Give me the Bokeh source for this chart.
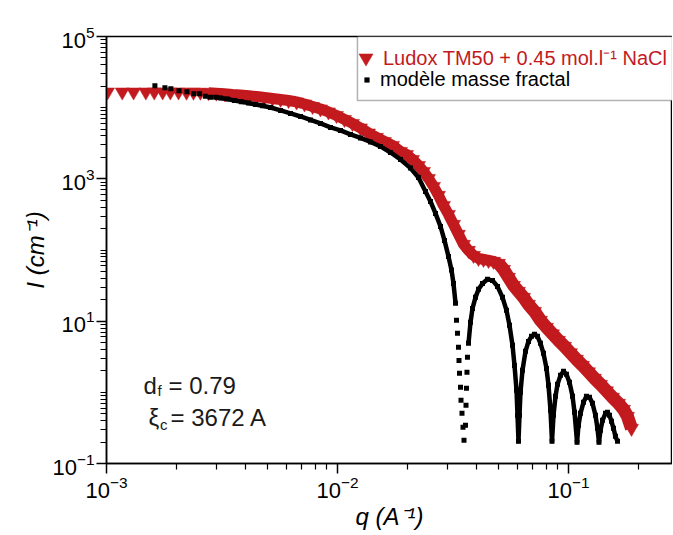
from bokeh.plotting import figure
from bokeh.models import (FixedTicker, Legend, LegendItem, BoxAnnotation, Label, Range1d)
from bokeh.embed import file_html
from bokeh.resources import INLINE

# ---------------- data ----------------
ludox_q = [0.00101, 0.00117, 0.00131, 0.00148, 0.00161, 0.00175, 0.00189, 0.00205, 0.00222, 0.00238,
           0.00255, 0.00276, 0.00299, 0.00324, 0.00351, 0.00380, 0.00412, 0.00446, 0.00483, 0.00523,
           0.00567, 0.00614, 0.00665, 0.00720, 0.00780, 0.00844, 0.00914, 0.00990, 0.01072, 0.01161,
           0.01258, 0.01362, 0.01475, 0.01597, 0.01730, 0.01874, 0.01990, 0.02112, 0.02242, 0.02357,
           0.02477, 0.02604, 0.02736, 0.02876, 0.03023, 0.03178, 0.03340, 0.03512, 0.03691, 0.03879,
           0.04078, 0.04286, 0.04505, 0.04735, 0.04977, 0.05232, 0.05500, 0.05780, 0.06075, 0.06386,
           0.06711, 0.07125, 0.07564, 0.08031, 0.08526, 0.09052, 0.09610, 0.1020, 0.1083, 0.1150,
           0.1221, 0.1296, 0.1376, 0.1461, 0.1551, 0.1647, 0.1730, 0.1800, 0.1874]
ludox_I = [16600, 16600, 16600, 16600, 16600, 16600, 16600, 16600, 16500, 16500,
           16500, 16250, 15990, 15680, 15330, 15080, 14690, 14370, 13910, 13470,
           13040, 12620, 12030, 11270, 10400, 9590, 8700, 7770, 6830, 6000,
           5190, 4410, 3820, 3350, 2945, 2425, 2200, 1873, 1542, 1270,
           1013, 782, 585, 423, 316, 229, 166, 120, 98.7, 84.0,
           76.2, 73.8, 71.4, 69.2, 64.8, 53.4, 41.2, 31.8, 26.2, 21.6,
           17.2, 13.7, 10.26, 8.18, 6.63, 5.37, 4.43, 3.59, 2.91, 2.39,
           1.94, 1.573, 1.295, 1.050, 0.851, 0.701, 0.577, 0.460, 0.312]

model_q = [0.00162, 0.00179, 0.00190, 0.00206, 0.00223, 0.00239, 0.00253, 0.00268, 0.00282, 0.00297,
           0.00312, 0.00334, 0.00358, 0.00384, 0.00412, 0.00442, 0.00474, 0.00513, 0.00567, 0.00626,
           0.00692, 0.00764, 0.00844, 0.00933, 0.01030, 0.01138, 0.01258, 0.01390, 0.01535, 0.01696,
           0.01874, 0.02070, 0.02242, 0.02404, 0.02527, 0.02656, 0.02792, 0.02905, 0.03023, 0.03115,
           0.03178, 0.03243,
           0.03275, 0.03307, 0.03340, 0.03357, 0.03374, 0.03408, 0.03425, 0.03459, 0.03494, 0.03529,
           0.03582, 0.03600, 0.03617, 0.03635, 0.03653,
           0.03691, 0.03765, 0.03841, 0.03958, 0.04078, 0.04244, 0.04460, 0.04688, 0.04927, 0.05180,
           0.05391, 0.05555, 0.05724, 0.05839, 0.05957, 0.06016, 0.06075,
           0.06136, 0.06197, 0.06322, 0.06514, 0.06711, 0.06916, 0.07125, 0.07342, 0.07564, 0.07794,
           0.08031, 0.08193, 0.08358, 0.08484,
           0.08612, 0.08786, 0.08963, 0.09235, 0.09515, 0.09802, 0.1010, 0.1041, 0.1062, 0.1089,
           0.1105, 0.1127, 0.1161, 0.1196, 0.1233, 0.1270, 0.1309, 0.1335, 0.1355,
           0.1376, 0.1404, 0.1446, 0.1475, 0.1505, 0.1535, 0.1566, 0.1597, 0.1630]
model_I = [20300, 19000, 18420, 17270, 16720, 15680, 15680, 14500, 14040, 14040,
           13680, 13250, 12620, 12100, 11640, 11090, 10630, 10060, 9135, 8288,
           7520, 6719, 6000, 5272, 4784, 4203, 3753, 3298, 2852, 2348,
           1873, 1423, 1046, 665, 481, 327, 214.6, 136.4, 81.3, 52.4,
           33.9, 17.8,
           10.26, 6.74, 4.29, 2.81, 1.849, 1.176, 0.772, 0.507, 0.322, 0.212,
           0.344, 0.657, 1.138, 1.910, 3.10,
           4.88, 9.62, 15.1, 21.6, 28.0, 33.9, 38.7, 37.4, 30.8, 21.6,
           14.2, 8.73, 4.57, 2.39, 1.067, 0.475, 0.205,
           0.475, 1.00, 2.04, 3.77, 5.20, 6.12, 6.53, 6.12, 4.88, 3.53,
           2.17, 1.254, 0.559, 0.205,
           0.475, 0.879, 1.295, 1.733, 1.972, 1.789, 1.382, 0.879, 0.524, 0.199,
           0.344, 0.507, 0.724, 0.879, 0.851, 0.701, 0.475, 0.312, 0.199,
           0.293, 0.404, 0.507, 0.524, 0.475, 0.391, 0.312, 0.241, 0.205]

x_major = [0.001, 0.01, 0.1]
x_minor = [m * 10.0 ** k for k in (-3, -2, -1) for m in range(2, 10)]
y_major = [0.1, 10, 1000, 100000]
y_minor = [m * 10.0 ** k for k in range(-1, 5) for m in range(1, 10)
           if not (m == 1 and k in (-1, 1, 3))]

legend_labels = ["Ludox TM50 + 0.45 mol.l\u207b\u00b9 NaCl", "mod\u00e8le masse fractal"]

RED = "#C21A1E"
FONT = "Liberation Sans"

p = figure(width=672, height=534, x_axis_type="log", y_axis_type="log",
           x_range=Range1d(1e-3, 0.282), y_range=Range1d(0.1, 1e5),
           output_backend="svg", toolbar_location=None,
           min_border_left=106, min_border_right=0, min_border_top=36, min_border_bottom=71,
           x_axis_label="q (A\u207b\u00b9)", y_axis_label="I (cm\u207b\u00b9)")
p.grid.visible = False
p.outline_line_color = "black"
p.outline_line_width = 1.5
p.background_fill_color = "white"

p.xaxis.ticker = FixedTicker(ticks=x_major, minor_ticks=x_minor)
p.yaxis.ticker = FixedTicker(ticks=y_major, minor_ticks=y_minor)
for ax in (p.xaxis[0], p.yaxis[0]):
    ax.axis_line_width = 1.5
    ax.major_tick_in = 0
    ax.major_tick_out = 10
    ax.minor_tick_in = 0
    ax.minor_tick_out = 6
    ax.major_tick_line_width = 1.5
    ax.minor_tick_line_width = 1.2
    ax.major_label_text_font = FONT
    ax.major_label_text_font_size = "22px"
    ax.major_label_text_color = "black"
    ax.major_label_standoff = 2
    ax.axis_label_text_font = FONT
    ax.axis_label_text_font_size = "24px"
    ax.axis_label_text_font_style = "italic"
    ax.axis_label_text_color = "black"
p.xaxis[0].axis_label_standoff = 2
p.yaxis[0].axis_label_standoff = 0

# red data: a dense band of inverted triangles
p.line(ludox_q[11:56], ludox_I[11:56], line_color=RED, line_width=11, line_join="round")
p.line(ludox_q[54:], ludox_I[54:], line_color=RED, line_width=13, line_join="round")
red_sc = p.scatter(ludox_q, ludox_I, marker="inverted_triangle", size=14,
                   fill_color=RED, line_color=RED, line_width=0.5)

# black model: small squares
p.line(model_q[9:42], model_I[9:42], line_color="black", line_width=4.5, line_join="round")
p.line(model_q[57:], model_I[57:], line_color="black", line_width=4.5, line_join="round")
blk_sc = p.scatter(model_q, model_I, marker="square", size=5, fill_color="black", line_color=None)

# legend box
p.add_layout(BoxAnnotation(left=0.0122, bottom=12600, fill_color="white", fill_alpha=1.0,
                           line_color="black", line_width=1.5, level="overlay"))

common = dict(border_line_color=None, background_fill_alpha=0, padding=0, margin=0, spacing=0,
              label_height=20, label_text_font=FONT, label_text_font_size="20px")
leg1 = Legend(items=[LegendItem(label=legend_labels[0], renderers=[red_sc])],
              location=(242, 388), label_text_color=RED,
              glyph_width=35, glyph_height=35, label_standoff=-2, **common)
leg2 = Legend(items=[LegendItem(label=legend_labels[1], renderers=[blk_sc])],
              location=(254, 372), label_text_color="black",
              glyph_width=13, glyph_height=13, label_standoff=7, **common)
p.add_layout(leg1)
p.add_layout(leg2)

# annotations
txt = dict(text_font=FONT, text_color="#1a1a1a", text_baseline="alphabetic")
p.add_layout(Label(x=0.001446, y=1.254, text="d", text_font_size="24px", **txt))
p.add_layout(Label(x=0.001662, y=1.067, text="f", text_font_size="15px", **txt))
p.add_layout(Label(x=0.001855, y=1.254, text="= 0.79", text_font_size="24px", **txt))
p.add_layout(Label(x=0.001520, y=0.4456, text="\u03be", text_font_size="24px", **txt))
p.add_layout(Label(x=0.001705, y=0.3553, text="c", text_font_size="15px", **txt))
p.add_layout(Label(x=0.001893, y=0.4456, text="= 3672 A", text_font_size="24px", **txt))

open("out.html", "w").write(file_html(p, INLINE))
